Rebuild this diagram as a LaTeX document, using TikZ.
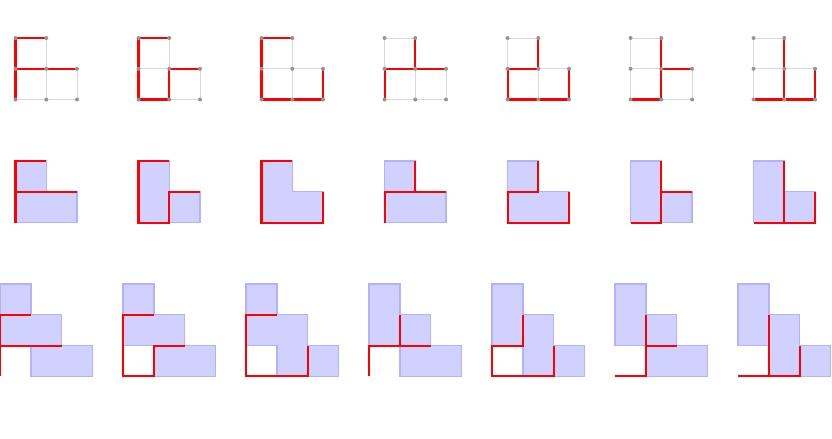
\documentclass[tikz,border=0pt]{standalone}
\begin{document}
\begin{tikzpicture}[x=1cm,y=1cm,
  gridline/.style={draw=black!15, line width=0.9pt},
  redline/.style={draw=red, line width=1.9pt, line join=miter},
  piece/.style={fill=blue!18, draw=blue!30, line width=1.3pt},
  gdot/.style={fill=black!42}]
\useasboundingbox (-0.504,1.236) rectangle (26.551,-13.008);
% ---------- row 1: grid graphs ----------
\newcommand{\lgrid}{%
  \draw[gridline] (0,0) -- (2,0) (0,1) -- (2,1) (0,2) -- (1,2)
                  (0,0) -- (0,2) (1,0) -- (1,2) (2,0) -- (2,1);}
\newcommand{\gdots}{%
  \foreach \p in {(0,0),(1,0),(2,0),(0,1),(1,1),(2,1),(0,2),(1,2)}
    \fill[gdot] \p circle (0.065);}
\begin{scope}[shift={(0,-2)}]
  \lgrid \draw[redline] (0,0) -- (0,2) -- (1,2) (0,1) -- (2,1); \gdots
\end{scope}
\begin{scope}[shift={(4,-2)}]
  \lgrid \draw[redline] (2,1) -- (1,1) -- (1,0) -- (0,0) -- (0,2) -- (1,2); \gdots
\end{scope}
\begin{scope}[shift={(8,-2)}]
  \lgrid \draw[redline] (1,2) -- (0,2) -- (0,0) -- (2,0) -- (2,1); \gdots
\end{scope}
\begin{scope}[shift={(12,-2)}]
  \lgrid \draw[redline] (0,0) -- (0,1) -- (2,1) (1,1) -- (1,2); \gdots
\end{scope}
\begin{scope}[shift={(16,-2)}]
  \lgrid \draw[redline] (1,2) -- (1,1) -- (0,1) -- (0,0) -- (2,0) -- (2,1); \gdots
\end{scope}
\begin{scope}[shift={(20,-2)}]
  \lgrid \draw[redline] (1,2) -- (1,0) -- (0,0) (1,1) -- (2,1); \gdots
\end{scope}
\begin{scope}[shift={(24,-2)}]
  \lgrid \draw[redline] (1,2) -- (1,0) (0,0) -- (2,0) -- (2,1); \gdots
\end{scope}
% ---------- row 2: pieces ----------
\newcommand{\pcA}{\draw[piece] (0,1) rectangle (1,2); \draw[piece] (0,0) rectangle (2,1);}
\newcommand{\pcB}{\draw[piece] (0,0) rectangle (1,2); \draw[piece] (1,0) rectangle (2,1);}
\begin{scope}[shift={(0,-6)}]
  \pcA \draw[redline] (0,0) -- (0,2) -- (1,2) (0,1) -- (2,1);
\end{scope}
\begin{scope}[shift={(4,-6)}]
  \pcB \draw[redline] (2,1) -- (1,1) -- (1,0) -- (0,0) -- (0,2) -- (1,2);
\end{scope}
\begin{scope}[shift={(8,-6)}]
  \draw[piece] (0,0) -- (2,0) -- (2,1) -- (1,1) -- (1,2) -- (0,2) -- cycle;
  \draw[redline] (1,2) -- (0,2) -- (0,0) -- (2,0) -- (2,1);
\end{scope}
\begin{scope}[shift={(12,-6)}]
  \pcA \draw[redline] (0,0) -- (0,1) -- (2,1) (1,1) -- (1,2);
\end{scope}
\begin{scope}[shift={(16,-6)}]
  \pcA \draw[redline] (1,2) -- (1,1) -- (0,1) -- (0,0) -- (2,0) -- (2,1);
\end{scope}
\begin{scope}[shift={(20,-6)}]
  \pcB \draw[redline] (1,2) -- (1,0) -- (0,0) (1,1) -- (2,1);
\end{scope}
\begin{scope}[shift={(24,-6)}]
  \pcB \draw[redline] (1,2) -- (1,0) (0,0) -- (2,0) -- (2,1);
\end{scope}
% ---------- row 3: staircases ----------
\newcommand{\stA}{\draw[piece] (0,2) rectangle (1,3); \draw[piece] (0,1) rectangle (2,2); \draw[piece] (1,0) rectangle (3,1);}
\newcommand{\stB}{\draw[piece] (0,1) rectangle (1,3); \draw[piece] (1,1) rectangle (2,2); \draw[piece] (1,0) rectangle (3,1);}
\newcommand{\stC}{\draw[piece] (0,1) rectangle (1,3); \draw[piece] (1,0) rectangle (2,2); \draw[piece] (2,0) rectangle (3,1);}
\begin{scope}[shift={(-0.5,-11)}]
  \stA \draw[redline] (0,0) -- (0,2) -- (1,2) (0,1) -- (2,1);
\end{scope}
\begin{scope}[shift={(3.5,-11)}]
  \stA \draw[redline] (2,1) -- (1,1) -- (1,0) -- (0,0) -- (0,2) -- (1,2);
\end{scope}
\begin{scope}[shift={(7.5,-11)}]
  \draw[piece] (0,2) rectangle (1,3);
  \draw[piece] (0,1) -- (1,1) -- (1,0) -- (2,0) -- (2,2) -- (0,2) -- cycle;
  \draw[piece] (2,0) rectangle (3,1);
  \draw[redline] (1,2) -- (0,2) -- (0,0) -- (2,0) -- (2,1);
\end{scope}
\begin{scope}[shift={(11.5,-11)}]
  \stB \draw[redline] (0,0) -- (0,1) -- (2,1) (1,1) -- (1,2);
\end{scope}
\begin{scope}[shift={(15.5,-11)}]
  \stC \draw[redline] (1,2) -- (1,1) -- (0,1) -- (0,0) -- (2,0) -- (2,1);
\end{scope}
\begin{scope}[shift={(19.5,-11)}]
  \stB \draw[redline] (1,2) -- (1,0) -- (0,0) (1,1) -- (2,1);
\end{scope}
\begin{scope}[shift={(23.5,-11)}]
  \stC \draw[redline] (1,2) -- (1,0) (0,0) -- (2,0) -- (2,1);
\end{scope}
\end{tikzpicture}
\end{document}
